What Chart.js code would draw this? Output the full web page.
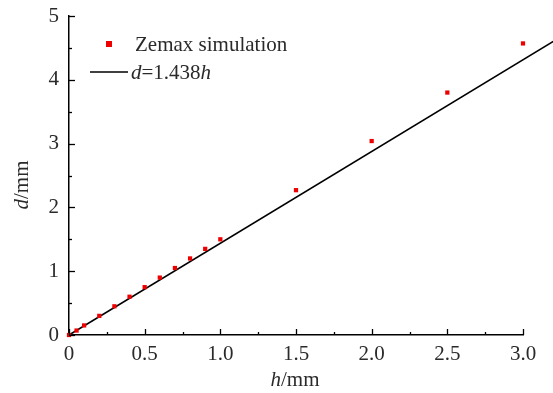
<!DOCTYPE html>
<html>
<head>
<meta charset="utf-8">
<script src="https://cdn.jsdelivr.net/npm/chart.js@4.4.1/dist/chart.umd.min.js"></script>
<style>
  body { margin: 0; background: #fff; }
  #wrap { width: 553px; height: 393px; }
</style>
</head>
<body>
<div id="wrap"><canvas id="c" width="553" height="393"></canvas></div>
<script>
// datos
const hSim = [0, 0.05, 0.1, 0.2, 0.3, 0.4, 0.5, 0.6, 0.7, 0.8, 0.9, 1.0, 1.5, 2.0, 2.5, 3.0];
const dSim = [0, 0.07, 0.15, 0.30, 0.45, 0.60, 0.75, 0.90, 1.05, 1.20, 1.35, 1.50, 2.27, 3.04, 3.80, 4.57];
// recta de ajuste d = 1.438h (extremos)
const hFit = [0, 3.2];
const dFit = [0, 4.6016];
const xTicks = [0, 0.5, 1.0, 1.5, 2.0, 2.5, 3.0];
const yTicks = [0, 1, 2, 3, 4, 5];

const serif = "'Liberation Serif', 'Times New Roman', serif";
const textColor = '#2a2a2a';
const fs = 21;

// texto con partes en cursiva
function drawRich(ctx, parts, x, y, size) {
    let cx = x;
    parts.forEach(p => {
        ctx.font = (p.it ? 'italic ' : '') + size + 'px ' + serif;
        ctx.fillText(p.t, cx, y);
        cx += ctx.measureText(p.t).width;
    });
    return cx - x;
}
function richWidth(ctx, parts, size) {
    let w = 0;
    parts.forEach(p => {
        ctx.font = (p.it ? 'italic ' : '') + size + 'px ' + serif;
        w += ctx.measureText(p.t).width;
    });
    return w;
}

const decor = {
    id: 'decor',
    afterDraw(chart) {
        const ctx = chart.ctx;
        const xs = chart.scales.x, ys = chart.scales.y;
        const x0 = xs.getPixelForValue(0), y0 = ys.getPixelForValue(0);
        ctx.save();
        ctx.strokeStyle = '#000';
        ctx.lineWidth = 1.3;
        // marcas hacia dentro
        for (let v = 0; v <= 3.0001; v += 0.25) {
            const px = Math.round(xs.getPixelForValue(v)) + 0.5;
            const len = (Math.abs(v * 2 - Math.round(v * 2)) < 1e-6) ? 6 : 3;
            ctx.beginPath(); ctx.moveTo(px, y0); ctx.lineTo(px, y0 - len); ctx.stroke();
        }
        for (let v = 0; v <= 5.0001; v += 0.5) {
            const py = Math.round(ys.getPixelForValue(v)) + 0.5;
            const len = (Math.abs(v - Math.round(v)) < 1e-6) ? 6 : 3;
            ctx.beginPath(); ctx.moveTo(x0, py); ctx.lineTo(x0 + len, py); ctx.stroke();
        }
        ctx.fillStyle = textColor;
        ctx.textBaseline = 'middle';
        // título eje x
        const xt = [{ t: 'h', it: true }, { t: '/mm' }];
        const xw = richWidth(ctx, xt, fs);
        drawRich(ctx, xt, 295 - xw / 2, 380, fs);
        // título eje y
        ctx.save();
        ctx.translate(22, 185);
        ctx.rotate(-Math.PI / 2);
        const yt = [{ t: 'd', it: true }, { t: '/mm' }];
        const yw = richWidth(ctx, yt, fs);
        drawRich(ctx, yt, -yw / 2, 0, fs);
        ctx.restore();
        // leyenda
        ctx.fillStyle = '#ee0000';
        ctx.fillRect(106, 41, 6, 6);
        ctx.fillStyle = textColor;
        drawRich(ctx, [{ t: 'Zemax simulation' }], 135, 45, fs);
        ctx.strokeStyle = '#000';
        ctx.lineWidth = 1.5;
        ctx.beginPath(); ctx.moveTo(90, 72); ctx.lineTo(128, 72); ctx.stroke();
        drawRich(ctx, [{ t: 'd', it: true }, { t: '=1.438' }, { t: 'h', it: true }], 131, 73, fs);
        ctx.restore();
    }
};

new Chart(document.getElementById('c'), {
    type: 'scatter',
    data: {
        datasets: [
            {
                label: 'Zemax simulation',
                data: hSim.map((h, i) => ({ x: h, y: dSim[i] })),
                pointStyle: 'rect',
                pointRadius: 3,
                backgroundColor: '#ee0000',
                borderColor: '#ee0000',
                borderWidth: 0,
                showLine: false,
                clip: false,
                order: 1
            },
            {
                label: 'd=1.438h',
                data: hFit.map((h, i) => ({ x: h, y: dFit[i] })),
                showLine: true,
                borderColor: '#000',
                borderWidth: 1.5,
                pointRadius: 0,
                clip: false,
                order: 2
            }
        ]
    },
    plugins: [decor],
    options: {
        responsive: false,
        animation: false,
        layout: { padding: { top: 0, right: 30, left: 0, bottom: 0 } },
        plugins: {
            legend: { display: false },
            tooltip: { enabled: false }
        },
        scales: {
            x: {
                type: 'linear',
                min: 0, max: 3,
                afterBuildTicks: s => { s.ticks = xTicks.map(v => ({ value: v })); },
                afterFit: s => { s.height = 58; },
                grid: { display: false, drawTicks: false },
                border: { display: true, color: '#000', width: 1.5 },
                ticks: {
                    padding: 7,
                    color: textColor,
                    font: { family: serif, size: fs },
                    callback: v => v === 0 ? '0' : v.toFixed(1)
                }
            },
            y: {
                type: 'linear',
                min: 0, max: 5,
                afterBuildTicks: s => { s.ticks = yTicks.map(v => ({ value: v })); },
                afterFit: s => { s.width = 69; s.paddingTop = 16; s.paddingBottom = 0; },
                grid: { display: false, drawTicks: false },
                border: { display: true, color: '#000', width: 1.5 },
                ticks: {
                    padding: 10,
                    color: textColor,
                    font: { family: serif, size: fs },
                    callback: v => String(v)
                }
            }
        }
    }
});
</script>
</body>
</html>
